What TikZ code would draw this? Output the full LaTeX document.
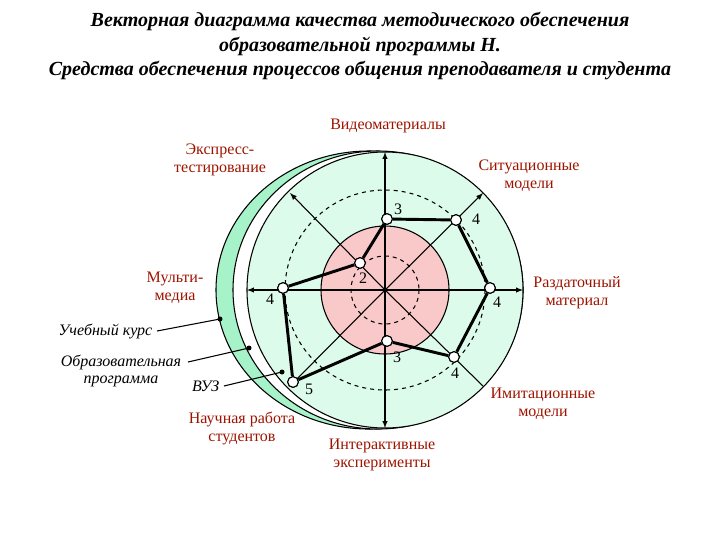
\documentclass[tikz,border=0pt]{standalone}
\usepackage{fontspec}
\setmainfont{Liberation Serif}
\begin{document}
\begin{tikzpicture}[x=0.75pt,y=-0.75pt,
  lab/.style={text=red!55!black!85!orange, align=center, font=\fontsize{12}{13.5}\selectfont},
  blab/.style={align=center, font=\itshape\fontsize{12}{13}\selectfont},
  num/.style={font=\fontsize{12}{13}\selectfont, inner sep=1pt},
  pt/.style={circle, draw, thick, fill=white, minimum size=8pt, inner sep=0pt},
  ax/.style={thick,-latex},
  poly/.style={line width=2.2pt}]
\useasboundingbox (0,0) rectangle (720,540);
\definecolor{lg}{HTML}{DDFBEA}
\definecolor{mg}{HTML}{A6F2C9}
\definecolor{pk}{HTML}{F9C9C9}
\node[font=\bfseries\itshape\fontsize{15}{18.5}\selectfont, align=center] (title) at (360,46)
 {Векторная диаграмма качества методического обеспечения\\образовательной программы Н.\\Средства обеспечения процессов общения преподавателя и студента};
\filldraw[thick, fill=mg] (369,290) ellipse[x radius=153, y radius=139];
\filldraw[thick, fill=white] (378,290) ellipse[x radius=145, y radius=139];
\filldraw[thick, fill=lg] (385,290) circle[radius=138];
\draw[dashed, thick] (385,290) circle[radius=100];
\filldraw[thick, fill=pk] (385,290) circle[radius=64];
\draw[dashed, thick] (385,290) circle[radius=34];
\coordinate (c) at (385,290);
\draw[ax] (c) -- (385,152);
\draw[ax] (c) -- (385,428);
\draw[ax] (c) -- (247,290);
\draw[ax] (c) -- (523,290);
\draw[ax] (c) -- (290,193);
\draw[ax] (c) -- (483,193);
\draw[thick] (c) -- (483,386);
\draw[thick] (c) -- (290,386);
\node[pt] (p1) at (387,219) {};
\node[pt] (p2) at (456,220) {};
\node[pt] (p3) at (490,288) {};
\node[pt] (p4) at (454,357) {};
\node[pt] (p5) at (387,341) {};
\node[pt] (p6) at (293,382) {};
\node[pt] (p7) at (283,288) {};
\node[pt] (p8) at (360,263) {};
\draw[poly] (p1)--(p2)--(p3)--(p4)--(p5)--(p6)--(p7)--(p8)--(p1);
\foreach \n in {p1,p2,p3,p4,p5,p6,p7,p8}{\node[pt] at (\n) {};}
\node[num] (n1) at (398,209) {3};
\node[num] (n2) at (476,219) {4};
\node[num] (n3) at (497,302) {4};
\node[num] (n4) at (455,373) {4};
\node[num] (n5) at (397,357) {3};
\node[num] (n6) at (309,389) {5};
\node[num] (n7) at (270,299) {4};
\node[num] (n8) at (363,278) {2};
\node[lab] (v) at (388,126) {Видеоматериалы};
\node[lab] (e) at (220,160) {Экспресс-\\тестирование};
\node[lab] (s) at (529,176) {Ситуационные\\модели};
\node[lab] (m) at (175,288) {Мульти-\\медиа};
\node[lab] (r) at (577,293) {Раздаточный\\материал};
\node[lab] (i) at (543,404) {Имитационные\\модели};
\node[lab] (ie) at (382,455) {Интерактивные\\эксперименты};
\node[lab] (nr) at (242,428) {Научная работа\\студентов};
\node[blab, anchor=east] (uk) at (157,331) {Учебный курс};
\node[blab] (op) at (121,371) {Образовательная\\программа};
\node[blab, anchor=east] (vuz) at (224,386) {ВУЗ};
\coordinate (d1) at (220,319);
\coordinate (d2) at (249,348);
\coordinate (d3) at (282,372);
\draw[thick] (uk.east) -- (d1); \fill (d1) circle[radius=2.5];
\draw[thick] (188,362) -- (d2); \fill (d2) circle[radius=2.5];
\draw[thick] (vuz.east) -- (d3); \fill (d3) circle[radius=2.5];
\end{tikzpicture}
\end{document}
